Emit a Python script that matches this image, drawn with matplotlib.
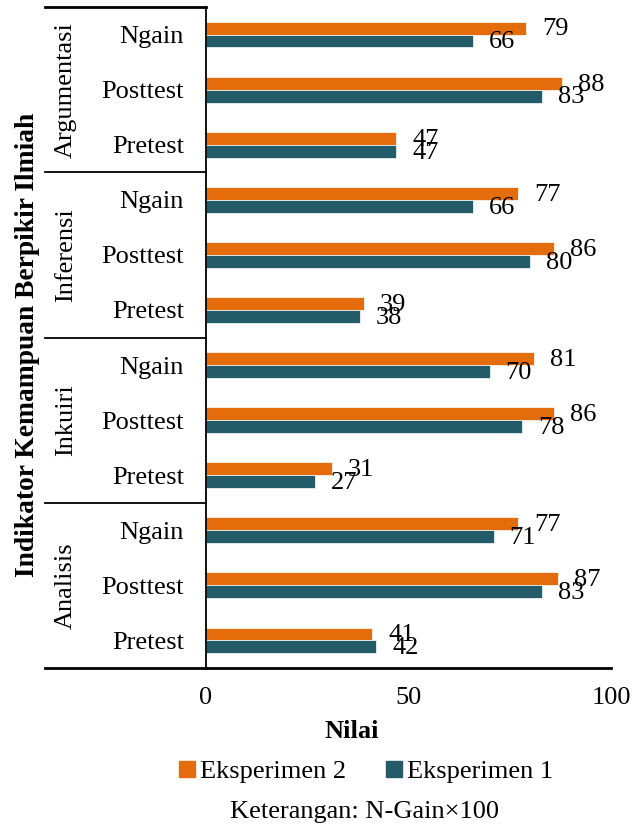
import matplotlib
matplotlib.use("Agg")
import matplotlib.pyplot as plt
from matplotlib.patches import Patch

plt.rcParams['font.family'] = ['Liberation Serif', 'DejaVu Serif']
plt.rcParams['font.size'] = 19

# indicator groups, listed bottom to top
groups = ["Analisis", "Inkuiri", "Inferensi", "Argumentasi"]
stages = ["Pretest", "Posttest", "Ngain"]

# values per group, in stage order (Pretest, Posttest, Ngain)
eksperimen2 = {
    "Analisis": [41, 87, 77],
    "Inkuiri": [31, 86, 81],
    "Inferensi": [39, 86, 77],
    "Argumentasi": [47, 88, 79],
}
eksperimen1 = {
    "Analisis": [42, 83, 71],
    "Inkuiri": [27, 78, 70],
    "Inferensi": [38, 80, 66],
    "Argumentasi": [47, 83, 66],
}

c_e2 = "#E46C0A"
c_e1 = "#235B69"

W, H = 635, 827
fig = plt.figure(figsize=(W / 100, H / 100), dpi=100)
ax = fig.add_axes([206 / W, 1 - 668 / H, (611 - 206) / W, (668 - 7) / H])

ypos = []
labels = []
v2 = []
v1 = []
for g in groups:
    for i, s in enumerate(stages):
        ypos.append(len(ypos))
        labels.append(s)
        v2.append(eksperimen2[g][i])
        v1.append(eksperimen1[g][i])

h = 0.235
ax.barh([y + h / 2 for y in ypos], v2, height=h, color=c_e2,
        edgecolor="white", linewidth=0.5)
ax.barh([y - h / 2 for y in ypos], v1, height=h, color=c_e1,
        edgecolor="white", linewidth=0.5)

for y, a, b in zip(ypos, v2, v1):
    ax.annotate(str(a), (a, y + h / 2), xytext=(11.5, -1),
                textcoords="offset points", ha="left", va="center")
    ax.annotate(str(b), (b, y - h / 2), xytext=(11.5, -1),
                textcoords="offset points", ha="left", va="center")

ax.set_xlim(0, 100)
ax.set_ylim(-0.5, len(ypos) - 0.5)
ax.set_xticks([0, 50, 100])
ax.set_yticks(ypos)
ax.set_yticklabels(labels)
ax.tick_params(axis="y", length=0, pad=16)
ax.tick_params(axis="x", length=0, pad=14)

for side in ["top", "right"]:
    ax.spines[side].set_visible(False)
ax.spines["left"].set_linewidth(1.3)
ax.spines["bottom"].set_linewidth(2)

# group separators on the left of the axis
tr = ax.get_yaxis_transform()
x0 = (45 - 206) / (611 - 206)
for k in range(len(groups) + 1):
    yb = k * 3 - 0.5
    ax.plot([x0, 0], [yb, yb], color="black", lw=2 if k in (0, len(groups)) else 1.3,
            transform=tr, clip_on=False)
xg = (66 - 206) / (611 - 206)
for k, g in enumerate(groups):
    ax.text(xg, k * 3 + 1, g, rotation=90, ha="center", va="center", transform=tr)

fig.text(28 / W, 1 - 345 / H, "Indikator Kemampuan Berpikir Ilmiah",
         rotation=90, ha="center", va="center", fontweight="bold", fontsize=19.8)
fig.text(352 / W, 1 - 732 / H, "Nilai", ha="center", va="center", fontweight="bold")

handles = [Patch(color=c_e2, label="Eksperimen 2"),
           Patch(color=c_e1, label="Eksperimen 1")]
fig.legend(handles=handles, loc="center", bbox_to_anchor=(366 / W, 1 - 772 / H),
           ncol=2, frameon=False, handlelength=0.6, handleheight=0.6,
           handletextpad=0.2, columnspacing=1.5, borderpad=0)

fig.text(365 / W, 1 - 812 / H, "Keterangan: N-Gain\u00d7100", ha="center", va="center")

fig.savefig("out.png", dpi=100)
